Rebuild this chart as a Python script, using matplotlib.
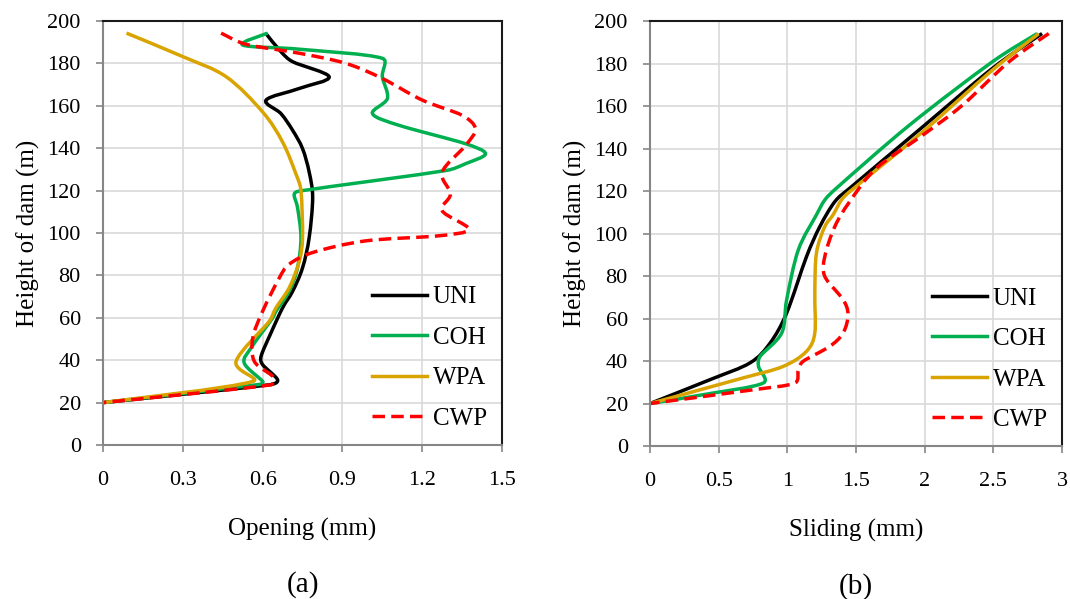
# Opening and sliding profiles along the dam height, four load cases
import math
import matplotlib.pyplot as plt
from matplotlib.path import Path
from matplotlib.patches import PathPatch
from matplotlib.lines import Line2D

plt.rcParams["font.family"] = ["Liberation Serif", "DejaVu Serif"]

labels = ["UNI", "COH", "WPA", "CWP"]
colors = ["#000000", "#00B050", "#D9A300", "#FF0000"]

# (a) opening (mm) vs height (m)
open_uni_y = [194, 185.5, 180.8, 173.7, 168.2, 162.7, 156.3, 148.4, 139.8, 128.7, 116.8,
              97.9, 83.6, 72.6, 64.7, 52.8, 41.8, 37.9, 30.8, 28.4, 20]
open_uni_x = [0.613, 0.669, 0.713, 0.85, 0.738, 0.613, 0.669, 0.713, 0.75, 0.775, 0.788,
              0.775, 0.75, 0.713, 0.675, 0.631, 0.594, 0.6, 0.656, 0.625, 0]

open_coh_y = [194.3, 188.7, 186.7, 182.4, 173.7, 163.5, 156.3, 150.8, 142.1, 137.4, 132.7,
              129.5, 120, 118.4, 112.1, 97.9, 83.6, 72.6, 63.1, 60, 45.7, 38.6, 30, 28.6, 20]
open_coh_x = [0.619, 0.525, 0.738, 1.05, 1.05, 1.069, 1.013, 1.113, 1.363, 1.438, 1.363,
              1.29, 0.75, 0.719, 0.731, 0.744, 0.731, 0.7, 0.65, 0.638, 0.556, 0.531, 0.6, 0.59, 0]

open_wpa_y = [194.3, 183.2, 173.7, 157.1, 142.9, 127.9, 120, 97.9, 86.8, 74.2, 64.7,
              58.4, 39.4, 30, 20]
open_wpa_x = [0.088, 0.3, 0.463, 0.6, 0.675, 0.725, 0.744, 0.75, 0.738, 0.7, 0.65,
              0.625, 0.5, 0.563, 0]

open_cwp_y = [194.3, 189, 184.8, 180, 172.9, 162.7, 155.5, 149.2, 141.3, 128.7, 118.4,
              110.5, 101.8, 98.7, 96.3, 90.8, 85.3, 78.9, 63.1, 50.5, 39.4, 32.3, 28.4, 20]
open_cwp_x = [0.444, 0.538, 0.738, 0.913, 1.05, 1.2, 1.35, 1.4, 1.363, 1.275, 1.306,
              1.275, 1.375, 1.263, 0.988, 0.788, 0.7, 0.663, 0.6, 0.563, 0.569, 0.638, 0.631, 0]

# (b) sliding (mm) vs height (m)
slide_uni_y = [194.1, 177.7, 149.5, 121.3, 115, 103.3, 89.2, 62.6, 48.5, 39.2, 31.3, 20]
slide_uni_x = [2.855, 2.493, 1.973, 1.454, 1.346, 1.237, 1.14, 0.995, 0.875, 0.73, 0.44, 0]

slide_coh_y = [194.1, 180.8, 151, 121.3, 115.8, 108.8, 92.3, 68.8, 53.2, 42.2, 37.5, 29.7, 24.2, 20]
slide_coh_x = [2.819, 2.493, 1.889, 1.357, 1.273, 1.212, 1.08, 0.995, 0.959, 0.802, 0.79, 0.826, 0.391, 0]

slide_wpa_y = [194, 176.9, 147.9, 119.7, 115.8, 108.8, 103.3, 90.8, 72, 53.2, 44.6, 37.5, 32.1, 20]
slide_wpa_x = [2.83, 2.493, 1.986, 1.454, 1.394, 1.333, 1.273, 1.212, 1.2, 1.2, 1.14, 0.971, 0.681, 0]

slide_cwp_y = [194.1, 180.8, 160.4, 146.3, 130.7, 115, 103.3, 89.2, 79.8, 68.9, 61.8, 53.2,
               46.9, 39.9, 36, 29.7, 26.5, 20]
slide_cwp_x = [2.904, 2.614, 2.275, 1.986, 1.647, 1.454, 1.346, 1.273, 1.273, 1.406, 1.442, 1.406,
               1.309, 1.116, 1.08, 1.056, 0.754, 0]

open_ticks = [0, 0.3, 0.6, 0.9, 1.2, 1.5]
open_ticklabels = ["0", "0.3", "0.6", "0.9", "1.2", "1.5"]
slide_ticks = [0, 0.5, 1, 1.5, 2, 2.5, 3]
slide_ticklabels = ["0", "0.5", "1", "1.5", "2", "2.5", "3"]
height_ticks = list(range(0, 201, 20))

open_series = [(open_uni_x, open_uni_y), (open_coh_x, open_coh_y),
               (open_wpa_x, open_wpa_y), (open_cwp_x, open_cwp_y)]
slide_series = [(slide_uni_x, slide_uni_y), (slide_coh_x, slide_coh_y),
                (slide_wpa_x, slide_wpa_y), (slide_cwp_x, slide_cwp_y)]

CWP_DASH = (0, (3.6, 1.8))


def smooth_path(xs, ys, xspan, yspan):
    # Excel-like smoothed line: Catmull-Rom style Bezier through every point,
    # handle length capped by the segment length to avoid overshoot
    pts = [(x / xspan, y / yspan) for x, y in zip(xs, ys)]
    n = len(pts)

    def handle(a, b, seg):
        dx, dy = b[0] - a[0], b[1] - a[1]
        d = math.hypot(dx, dy) or 1.0
        h = min(d / 6, seg * 0.4)
        return dx / d * h, dy / d * h

    verts = [pts[0]]
    codes = [Path.MOVETO]
    for i in range(n - 1):
        p0 = pts[max(i - 1, 0)]
        p1 = pts[i]
        p2 = pts[i + 1]
        p3 = pts[min(i + 2, n - 1)]
        seg = math.hypot(p2[0] - p1[0], p2[1] - p1[1])
        h1 = handle(p0, p2, seg)
        h2 = handle(p1, p3, seg)
        verts += [(p1[0] + h1[0], p1[1] + h1[1]), (p2[0] - h2[0], p2[1] - h2[1]), p2]
        codes += [Path.CURVE4] * 3
    verts = [(vx * xspan, vy * yspan) for vx, vy in verts]
    return Path(verts, codes)


def style_axes(ax, xticks, xticklabels, xlabel, xmax, tag):
    ax.set_xlim(0, xmax)
    ax.set_ylim(0, 200)
    ax.set_xticks(xticks)
    ax.set_xticklabels(xticklabels)
    ax.set_yticks(height_ticks)
    ax.grid(True, color="#d9d9d9", lw=1.2)
    ax.set_axisbelow(True)
    for side in ["left", "bottom"]:
        ax.spines[side].set_color("#868686")
        ax.spines[side].set_linewidth(1.5)
    for side in ["top", "right"]:
        ax.spines[side].set_color("#1a1a1a")
        ax.spines[side].set_linewidth(1.5)
    ax.tick_params(axis="both", direction="out", length=5, width=1.2,
                   color="#868686", labelsize=16)
    ax.tick_params(axis="x", pad=14)
    ax.tick_params(axis="y", pad=11)
    ax.set_xlabel(xlabel, fontsize=18, labelpad=20)
    ax.set_ylabel("Height of dam (m)", fontsize=18, labelpad=5)
    ax.text(0.5, -0.33, tag, transform=ax.transAxes, ha="center", va="center", fontsize=21)
    handles = [Line2D([], [], color=c, lw=2.5, ls=CWP_DASH if lab == "CWP" else "-")
               for lab, c in zip(labels, colors)]
    ax.legend(handles, labels, loc="lower right", bbox_to_anchor=(1.0, 0.0), frameon=False,
              fontsize=18, handlelength=2.2, handletextpad=0.25, labelspacing=0.72,
              borderaxespad=0.2)


fig = plt.figure(figsize=(10.7, 5.99), dpi=100)
ax1 = fig.add_axes([0.0963, 0.2571, 0.3729, 0.7078])
ax2 = fig.add_axes([0.6075, 0.2554, 0.385, 0.7095])

for ax, series, xmax in [(ax1, open_series, 1.5), (ax2, slide_series, 3.0)]:
    for (xs, ys), lab, col in zip(series, labels, colors):
        ls = CWP_DASH if lab == "CWP" else "-"
        ax.add_patch(PathPatch(smooth_path(xs, ys, xmax, 200.0), fill=False, edgecolor=col,
                               lw=2.5, ls=ls, capstyle="butt"))

style_axes(ax1, open_ticks, open_ticklabels, "Opening (mm)", 1.5, "(a)")
style_axes(ax2, slide_ticks, slide_ticklabels, "Sliding (mm)", 3, "(b)")

fig.savefig("out.png", dpi=100)
